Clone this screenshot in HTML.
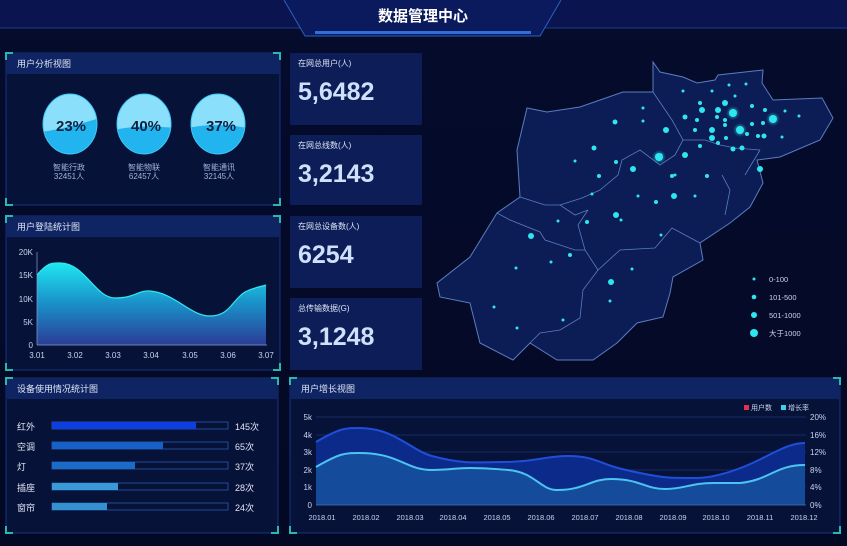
<!DOCTYPE html>
<html><head><meta charset="utf-8"><style>
html,body{margin:0;padding:0;background:#040a26;}
svg{display:block}
text{font-family:"Liberation Sans","Noto Sans CJK SC",sans-serif;}
</style></head><body>
<svg width="847" height="546" viewBox="0 0 847 546" xmlns="http://www.w3.org/2000/svg">
<defs>
<linearGradient id="bg" x1="0" y1="0" x2="0" y2="1"><stop offset="0" stop-color="#050c2c"/><stop offset="1" stop-color="#030824"/></linearGradient>
<linearGradient id="area" x1="0" y1="0" x2="0" y2="1"><stop offset="0" stop-color="#1ee6f0"/><stop offset="0.5" stop-color="#1a8fc8"/><stop offset="1" stop-color="#2b3c96"/></linearGradient>
<radialGradient id="glow"><stop offset="0" stop-color="#27f0f0" stop-opacity="0.8"/><stop offset="1" stop-color="#27f0f0" stop-opacity="0"/></radialGradient>
<clipPath id="c1"><ellipse cx="70" cy="124" rx="27" ry="30"/></clipPath>
<clipPath id="c2"><ellipse cx="144" cy="124" rx="27" ry="30"/></clipPath>
<clipPath id="c3"><ellipse cx="218" cy="124" rx="27" ry="30"/></clipPath>
</defs>
<rect width="847" height="546" fill="url(#bg)"/>
<!-- header -->
<rect x="0" y="0" width="847" height="28" fill="#0a1550"/>
<line x1="0" y1="28" x2="847" y2="28" stroke="#1d3a8a" stroke-width="1"/>
<path d="M284 0 L305 36 L540 36 L561 0" fill="#0b1a5c" stroke="#2c5fc0" stroke-width="1"/>
<rect x="315" y="31" width="216" height="3" fill="#2f6fd6"/>
<text x="423" y="21" text-anchor="middle" fill="#ffffff" font-size="15" font-weight="bold">数据管理中心</text>

<!-- panel frames -->
<g fill="#0a1848" stroke="#17307a" stroke-width="1">
<rect x="6" y="53" width="274" height="152"/>
<rect x="6" y="216" width="274" height="154"/>
<rect x="6" y="378" width="272" height="155"/>
<rect x="290" y="378" width="550" height="155"/>
</g>
<g fill="#0f2462">
<rect x="7" y="54" width="272" height="20"/>
<rect x="7" y="217" width="272" height="20"/>
<rect x="7" y="379" width="270" height="20"/>
<rect x="291" y="379" width="548" height="20"/>
</g>
<rect x="7" y="74" width="272" height="130" fill="#071238"/>
<rect x="7" y="237" width="272" height="132" fill="#071238"/>
<rect x="7" y="399" width="270" height="133" fill="#071238"/>
<rect x="291" y="399" width="548" height="133" fill="#071238"/>
<g stroke="#2ab7b0" stroke-width="2" fill="none">
<path d="M6 60 V53 H13 M273 53 H280 V60 M6 198 V205 H13 M273 205 H280 V198"/>
<path d="M6 223 V216 H13 M273 216 H280 V223 M6 363 V370 H13 M273 370 H280 V363"/>
<path d="M6 385 V378 H13 M271 378 H278 V385 M6 526 V533 H13 M271 533 H278 V526"/>
<path d="M290 385 V378 H297 M833 378 H840 V385 M290 526 V533 H297 M833 533 H840 V526"/>
</g>
<g fill="#dfe6f5" font-size="9">
<text x="17" y="67">用户分析视图</text>
<text x="17" y="230">用户登陆统计图</text>
<text x="17" y="392">设备使用情况统计图</text>
<text x="301" y="392">用户增长视图</text>
</g>

<!-- bubbles -->
<g>
<ellipse cx="70" cy="124" rx="27" ry="30" fill="#8ae0fb"/>
<path d="M40 132 Q60 130 100 118 V160 H40Z" fill="#22b4ee" clip-path="url(#c1)"/>
<ellipse cx="144" cy="124" rx="27" ry="30" fill="#8ae0fb"/>
<path d="M114 130 Q140 124 174 128 V160 H114Z" fill="#22b4ee" clip-path="url(#c2)"/>
<ellipse cx="218" cy="124" rx="27" ry="30" fill="#8ae0fb"/>
<path d="M188 128 Q215 122 248 128 V160 H188Z" fill="#22b4ee" clip-path="url(#c3)"/>
<g fill="none" stroke="#3fc8f4" stroke-width="1">
<ellipse cx="70" cy="124" rx="27" ry="30"/><ellipse cx="144" cy="124" rx="27" ry="30"/><ellipse cx="218" cy="124" rx="27" ry="30"/>
</g>
</g>
<g fill="#0d2040" font-size="15" font-weight="bold" text-anchor="middle">
<text x="71" y="131">23%</text><text x="146" y="131">40%</text><text x="221" y="131">37%</text>
</g>
<g fill="#9fb4e0" font-size="8" text-anchor="middle">
<text x="69" y="170">智能行政</text><text x="69" y="179">32451人</text>
<text x="144" y="170">智能物联</text><text x="144" y="179">62457人</text>
<text x="219" y="170">智能通讯</text><text x="219" y="179">32145人</text>
</g>

<!-- area chart -->
<path d="M37 275 C48 262 52 263 60 263 C85 263 95 298 115 298 C135 298 138 290 150 291 C175 293 190 316 210 316 C230 316 232 300 245 292 C255 287 260 287 266 285 V345 H37Z" fill="url(#area)"/>
<path d="M37 275 C48 262 52 263 60 263 C85 263 95 298 115 298 C135 298 138 290 150 291 C175 293 190 316 210 316 C230 316 232 300 245 292 C255 287 260 287 266 285" fill="none" stroke="#30e8f4" stroke-width="1.2"/>
<g stroke="#8aa0d0" stroke-width="0.7"><line x1="37" y1="252" x2="37" y2="345"/><line x1="37" y1="345" x2="267" y2="345"/></g>
<g fill="#c8d4f0" font-size="8" text-anchor="end">
<text x="33" y="255">20K</text><text x="33" y="278">15K</text><text x="33" y="302">10K</text><text x="33" y="325">5K</text><text x="33" y="348">0</text>
</g>
<g fill="#c8d4f0" font-size="8" text-anchor="middle">
<text x="37" y="358">3.01</text><text x="75" y="358">3.02</text><text x="113" y="358">3.03</text><text x="151" y="358">3.04</text><text x="190" y="358">3.05</text><text x="228" y="358">3.06</text><text x="266" y="358">3.07</text>
</g>

<!-- stat boxes -->
<g fill="#0c1d58">
<rect x="290" y="53" width="132" height="72"/><rect x="290" y="135" width="132" height="70"/>
<rect x="290" y="216" width="132" height="72"/><rect x="290" y="298" width="132" height="72"/>
</g>
<g fill="#dfe6f5" font-size="8">
<text x="298" y="66">在网总用户(人)</text><text x="298" y="148">在网总线数(人)</text>
<text x="298" y="229">在网总设备数(人)</text><text x="298" y="311">总传输数据(G)</text>
</g>
<g fill="#cfe0fa" font-size="25" font-weight="bold">
<text x="298" y="100">5,6482</text><text x="298" y="182">3,2143</text>
<text x="298" y="263">6254</text><text x="298" y="345">3,1248</text>
</g>

<!-- map -->
<path d="M653 62 L660 72 L683 77 L697 83 L715 80 L718 75 L763 70 L762 83 L773 100 L822 98 L833 118 L820 140 L780 157 L757 160 L763 183 L750 207 L730 223 L700 243 L703 260 L673 277 L670 293 L663 317 L637 323 L617 343 L593 360 L557 360 L530 343 L513 360 L480 343 L470 303 L440 297 L437 283 L470 257 L497 213 L520 197 L517 150 L527 108 L547 112 L580 107 L623 92 L653 92Z" fill="#0c1c55" stroke="#5a7dc0" stroke-width="1"/>
<g fill="none" stroke="#5a7dc0" stroke-width="0.8">
<path d="M653 92 L672 120 L683 140 L675 155 L660 165 L640 150 L622 160 L618 175 L600 190 L582 198 L560 205"/>
<path d="M520 197 L545 205 L560 205 L575 215 L588 210"/>
<path d="M588 210 L578 225 L585 250 L598 270 L620 250 L655 248 L672 228 L700 243"/>
<path d="M683 140 L705 140 L720 145 L735 148 L760 150"/>
<path d="M497 213 L510 220 L540 232 L545 240 L575 250 L585 250"/>
<path d="M598 270 L583 290 L580 318 L560 330 L540 333 L530 343"/>
<path d="M722 175 L730 190 L725 215"/>
<path d="M760 150 L745 175"/>
</g>
<g fill="#2ee6f0">
<circle cx="659" cy="157" r="7" fill="url(#glow)"/><circle cx="659" cy="157" r="4"/>
<circle cx="733" cy="113" r="7" fill="url(#glow)"/><circle cx="733" cy="113" r="4"/>
<circle cx="740" cy="130" r="7" fill="url(#glow)"/><circle cx="740" cy="130" r="4"/>
<circle cx="773" cy="119" r="7" fill="url(#glow)"/><circle cx="773" cy="119" r="4"/>
<circle cx="702" cy="110" r="3"/><circle cx="725" cy="103" r="3"/><circle cx="718" cy="110" r="3"/><circle cx="712" cy="130" r="3"/><circle cx="695" cy="130" r="2"/><circle cx="712" cy="138" r="3"/><circle cx="742" cy="148" r="2.5"/><circle cx="747" cy="134" r="2"/><circle cx="764" cy="136" r="2.5"/><circle cx="758" cy="136" r="2"/><circle cx="752" cy="124" r="2"/><circle cx="752" cy="106" r="2"/><circle cx="765" cy="110" r="2"/><circle cx="763" cy="123" r="2"/><circle cx="733" cy="149" r="2.5"/><circle cx="725" cy="120" r="2"/><circle cx="718" cy="143" r="2"/><circle cx="726" cy="138" r="2"/><circle cx="735" cy="96" r="1.5"/><circle cx="746" cy="84" r="1.5"/><circle cx="729" cy="85" r="1.5"/><circle cx="712" cy="91" r="1.5"/><circle cx="683" cy="91" r="1.5"/><circle cx="700" cy="146" r="2"/><circle cx="685" cy="117" r="2.5"/><circle cx="697" cy="120" r="2"/><circle cx="700" cy="103" r="2"/><circle cx="760" cy="169" r="3"/><circle cx="725" cy="125" r="2"/><circle cx="717" cy="117" r="2"/><circle cx="785" cy="111" r="1.5"/><circle cx="799" cy="116" r="1.5"/><circle cx="782" cy="137" r="1.5"/><circle cx="685" cy="155" r="3"/><circle cx="666" cy="130" r="3"/><circle cx="615" cy="122" r="2.5"/><circle cx="643" cy="108" r="1.5"/><circle cx="643" cy="121" r="1.5"/><circle cx="594" cy="148" r="2.5"/><circle cx="575" cy="161" r="1.5"/><circle cx="616" cy="162" r="2"/><circle cx="633" cy="169" r="3"/><circle cx="599" cy="176" r="2"/><circle cx="672" cy="176" r="2"/><circle cx="707" cy="176" r="2"/><circle cx="638" cy="196" r="1.5"/><circle cx="674" cy="196" r="3"/><circle cx="695" cy="196" r="1.5"/><circle cx="656" cy="202" r="2"/><circle cx="592" cy="194" r="1.5"/><circle cx="616" cy="215" r="3"/><circle cx="621" cy="220" r="1.5"/><circle cx="587" cy="222" r="2"/><circle cx="661" cy="235" r="1.5"/><circle cx="558" cy="221" r="1.5"/><circle cx="531" cy="236" r="3"/><circle cx="570" cy="255" r="2"/><circle cx="551" cy="262" r="1.5"/><circle cx="516" cy="268" r="1.5"/><circle cx="632" cy="269" r="1.5"/><circle cx="611" cy="282" r="3"/><circle cx="610" cy="301" r="1.5"/><circle cx="494" cy="307" r="1.5"/><circle cx="517" cy="328" r="1.5"/><circle cx="563" cy="320" r="1.5"/><circle cx="675" cy="175" r="1.5"/><circle cx="661" cy="155" r="1.5"/>
</g>
<g fill="#2ee6f0">
<circle cx="754" cy="279" r="1.5"/><circle cx="754" cy="297" r="2.3"/><circle cx="754" cy="315" r="3"/><circle cx="754" cy="333" r="4"/>
</g>
<g fill="#c8d4f0" font-size="7.5">
<text x="769" y="282">0-100</text><text x="769" y="300">101-500</text><text x="769" y="318">501-1000</text><text x="769" y="336">大于1000</text>
</g>

<!-- bars -->
<g fill="#dfe6f5" font-size="9">
<text x="17" y="430">红外</text><text x="17" y="450">空调</text><text x="17" y="470">灯</text><text x="17" y="491">插座</text><text x="17" y="511">窗帘</text>
<text x="235" y="430">145次</text><text x="235" y="450">65次</text><text x="235" y="470">37次</text><text x="235" y="491">28次</text><text x="235" y="511">24次</text>
</g>
<g fill="#071238" stroke="#2a5bb0" stroke-width="0.8">
<rect x="52" y="422" width="176" height="7"/><rect x="52" y="442" width="176" height="7"/><rect x="52" y="462" width="176" height="7"/><rect x="52" y="483" width="176" height="7"/><rect x="52" y="503" width="176" height="7"/>
</g>
<rect x="52" y="422" width="144" height="7" fill="#0d3ee0"/>
<rect x="52" y="442" width="111" height="7" fill="#1660c8"/>
<rect x="52" y="462" width="83" height="7" fill="#1a6cc8"/>
<rect x="52" y="483" width="66" height="7" fill="#3a9ad8"/>
<rect x="52" y="503" width="55" height="7" fill="#3590d0"/>

<!-- line chart -->
<g stroke="#1c3474" stroke-width="0.7">
<line x1="316" y1="417" x2="806" y2="417"/><line x1="316" y1="435" x2="806" y2="435"/><line x1="316" y1="452" x2="806" y2="452"/><line x1="316" y1="470" x2="806" y2="470"/><line x1="316" y1="487" x2="806" y2="487"/>
</g>
<path d="M316 442 C340 428 345 428 359 428 C395 428 410 450 432 456 C465 465 480 462 503 462 C535 462 545 456 568 456 C595 456 600 464 622 469 C660 478 670 478 686 478 C700 478 705 478 714 476 C760 466 780 443 805 443 V505 H316Z" fill="#0c2a8a"/>
<path d="M316 467 C340 453 345 453 359 453 C400 453 405 470 432 470 C450 470 455 468 470 468 C490 468 495 469 508 470 C535 472 540 490 557 490 C585 490 590 479 611 479 C640 479 645 489 665 489 C685 489 690 483 714 483 C728 483 732 483 740 483 C770 480 775 465 805 465 V505 H316Z" fill="#15509c" opacity="0.9"/>
<path d="M316 442 C340 428 345 428 359 428 C395 428 410 450 432 456 C465 465 480 462 503 462 C535 462 545 456 568 456 C595 456 600 464 622 469 C660 478 670 478 686 478 C700 478 705 478 714 476 C760 466 780 443 805 443" fill="none" stroke="#1f4fd8" stroke-width="2"/>
<path d="M316 467 C340 453 345 453 359 453 C400 453 405 470 432 470 C450 470 455 468 470 468 C490 468 495 469 508 470 C535 472 540 490 557 490 C585 490 590 479 611 479 C640 479 645 489 665 489 C685 489 690 483 714 483 C728 483 732 483 740 483 C770 480 775 465 805 465" fill="none" stroke="#4cc4f0" stroke-width="2"/>
<line x1="316" y1="505" x2="806" y2="505" stroke="#5070b0" stroke-width="0.8"/>
<g fill="#c8d4f0" font-size="8" text-anchor="end">
<text x="312" y="420">5k</text><text x="312" y="438">4k</text><text x="312" y="455">3k</text><text x="312" y="473">2k</text><text x="312" y="490">1k</text><text x="312" y="508">0</text>
</g>
<g fill="#c8d4f0" font-size="8">
<text x="810" y="420">20%</text><text x="810" y="438">16%</text><text x="810" y="455">12%</text><text x="810" y="473">8%</text><text x="810" y="490">4%</text><text x="810" y="508">0%</text>
</g>
<g fill="#c8d4f0" font-size="7.5" text-anchor="middle">
<text x="322" y="520">2018.01</text><text x="366" y="520">2018.02</text><text x="410" y="520">2018.03</text><text x="453" y="520">2018.04</text><text x="497" y="520">2018.05</text><text x="541" y="520">2018.06</text><text x="585" y="520">2018.07</text><text x="629" y="520">2018.08</text><text x="673" y="520">2018.09</text><text x="716" y="520">2018.10</text><text x="760" y="520">2018.11</text><text x="804" y="520">2018.12</text>
</g>
<rect x="744" y="405" width="5" height="5" fill="#e0304a"/>
<text x="751" y="410" fill="#c8d4f0" font-size="7">用户数</text>
<rect x="781" y="405" width="5" height="5" fill="#3fd0f0"/>
<text x="788" y="410" fill="#c8d4f0" font-size="7">增长率</text>
</svg>
</body></html>
